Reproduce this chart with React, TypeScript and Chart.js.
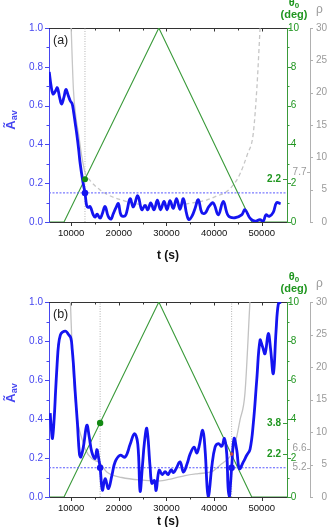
import React, { useEffect, useRef } from "react";
import { Chart, registerables } from "chart.js";

Chart.register(...registerables);

const FONT = "Arial, 'Liberation Sans', Helvetica, sans-serif";
const BLUE = "#1414f0";
const BLUE_TEXT = "#4646f0";
const GREEN = "#3a9a3a";
const GREEN_TEXT = "#1f961f";
const GREEN_DOT = "#138a13";
const GRAY_TEXT = "#9a9a9a";
const GRAY_AXIS = "#b0b0b0";

const T_MIN = 5350;
const T_MAX = 55300;

const xTicks = [10000, 20000, 30000, 40000, 50000];
const xMinorTicks = [15000, 25000, 35000, 45000];
const aTicks = [0, 0.2, 0.4, 0.6, 0.8, 1.0];
const aMinorTicks = [0.1, 0.3, 0.5, 0.7, 0.9];
const thetaTicks = [0, 2, 4, 6, 8, 10];
const thetaMinorTicks = [1, 3, 5, 7, 9];
const rhoTicks = [0, 5, 10, 15, 20, 25, 30];

const A_THRESHOLD = 0.15;

// tilt-angle ramp θ0(t), shared by both runs
const tTheta = [T_MIN, 8500, 28400, 47900, T_MAX];
const theta = [0, 0, 10, 0, 0];

// ---- run (a) ----
const tBlueA = [
  5400, 5800, 6200, 6700, 7100, 7600, 8000, 8500, 8900, 9350,
  9800, 10200, 10500, 10850, 11200, 11550, 11900, 12400, 12900, 13250,
  13560, 13980, 14670, 15030, 15450, 16080, 16500, 17130, 17760, 18380,
  18800, 19430, 19910, 20480, 21320, 21740, 22370, 23060, 23980, 24820,
  25510, 26080, 26700, 27400, 28090, 28760, 29490, 30120, 30750, 31440,
  32110, 32850, 33540, 34250, 34730, 35360, 36000, 36690, 37400, 38090,
  38930, 39830, 40880, 41930, 42980, 44380, 45780, 46480, 47530, 48570,
  49620, 50320, 50880, 51570, 52410, 53120, 53960,
];
const aBlueA = [
  0.774, 0.70, 0.66, 0.675, 0.692, 0.64, 0.608, 0.645, 0.683, 0.655,
  0.625, 0.61, 0.57, 0.51, 0.45, 0.38, 0.30, 0.217, 0.15, 0.085,
  0.075, 0.08, 0.035, 0.025, 0.04, 0.02, 0.04, 0.08, 0.03, 0.015,
  0.04, 0.075, 0.095, 0.035, 0.032, 0.06, 0.12, 0.078, 0.135, 0.063,
  0.085, 0.063, 0.098, 0.063, 0.112, 0.063, 0.106, 0.063, 0.11, 0.07,
  0.12, 0.065, 0.12, 0.04, 0.012, 0.03, 0.07, 0.115, 0.05, 0.045,
  0.08, 0.098, 0.037, 0.106, 0.032, 0.022, 0.037, 0.063, 0.02, 0.004,
  0.012, 0.004, 0.037, 0.029, 0.05, 0.1, 0.094,
];
const tRhoA = [
  10000, 10480, 11000, 11530, 12240, 12900, 14000, 16000, 18000, 20600,
  23000, 26000, 29000, 32000, 35000, 38450, 40500, 42640, 44500, 45470,
  47000, 48220, 49000, 49650,
];
const rhoA = [
  30, 20.4, 16.2, 13.7, 10.1, 7.7, 6.4, 5.0, 4.1, 3.4,
  2.9, 2.6, 2.5, 2.6, 2.9, 3.4, 4.0, 4.7, 6.2, 7.5,
  10.5, 13.7, 21, 30,
];
const critTA = [12900];
const critThetaA = [2.2];
const critRhoA = [7.7];

// ---- run (b) ----
const tBlueB = [
  5600, 5870, 6080, 6430, 6750, 7050, 7350, 7730, 8180, 8890,
  9430, 9940, 10210, 10480, 10840, 11320, 11740, 12030, 12580, 13290,
  13780, 14340, 15030, 15390, 15730, 16080, 16560, 17130, 17820, 18540,
  19230, 20280, 21330, 22380, 23280, 23990, 24470, 24960, 25380, 25880,
  26570, 26930, 27470, 27830, 28460, 29150, 29720, 30350, 30980, 31460,
  32020, 32860, 33560, 34330, 34960, 35800, 36370, 36850, 37620, 38110,
  38530, 38800, 39050, 39510, 40200, 40900, 41610, 42160, 42660, 42930,
  43200, 43450, 43680, 44190, 44760, 45300, 46140, 46850, 47550, 48240,
  48950, 49640, 50170, 50690, 51380, 51850, 52430, 53000, 53480, 53990,
];
const aBlueB = [
  0.43, 0.34, 0.30, 0.40, 0.55, 0.68, 0.78, 0.83, 0.845, 0.85,
  0.834, 0.815, 0.76, 0.68, 0.54, 0.376, 0.22, 0.205, 0.26, 0.368,
  0.31, 0.23, 0.197, 0.243, 0.205, 0.15, 0.035, 0.094, 0.043, 0.11,
  0.18, 0.214, 0.205, 0.27, 0.325, 0.27, 0.03, 0.16, 0.28, 0.351,
  0.154, 0.07, 0.085, 0.034, 0.137, 0.115, 0.13, 0.115, 0.14, 0.125,
  0.145, 0.18, 0.128, 0.17, 0.22, 0.256, 0.225, 0.26, 0.342, 0.24,
  0.05, 0.0, 0.04, 0.154, 0.256, 0.274, 0.26, 0.3, 0.22, 0.05,
  0.0, 0.07, 0.15, 0.3, 0.24, 0.145, 0.18, 0.214, 0.245, 0.38,
  0.6, 0.804, 0.77, 0.735, 0.838, 0.76, 0.633, 0.85, 0.99, 1.0,
];
const tRhoB = [
  9850, 10300, 10800, 11530, 12250, 12930, 14340, 15720, 16080, 17480,
  20630, 25510, 28300, 31110, 33900, 36680, 39490, 41590, 42970, 43680,
  44020, 44730, 45420, 46470, 47520,
];
const rhoB = [
  30, 21, 15.5, 11, 9, 7.4, 5.9, 5.4, 5.2, 3.85,
  3.0, 2.57, 2.46, 2.8, 3.3, 3.6, 3.9, 5.1, 5.9, 6.6,
  7.2, 9.2, 11.8, 15.9, 30,
];
const critTB = [16080, 43680];
const critThetaB = [3.8, 2.2];
const critRhoB = [5.2, 6.6];

type PanelSpec = {
  letter: string;
  tBlue: number[];
  aBlue: number[];
  tRho: number[];
  rho: number[];
  rhoDashed: boolean;
  critT: number[];
  critTheta: number[];
  critRho: number[];
  critRhoShift: number[];
  thetaDotColor: string[];
  thetaDotRadius: number[];
  padTop: number;
  xAxisH: number;
  letterTop: number;
  leftTitleCy: number;
  tTitleBaseline: number;
};

const panelA: PanelSpec = {
  letter: "(a)",
  tBlue: tBlueA,
  aBlue: aBlueA,
  tRho: tRhoA,
  rho: rhoA,
  rhoDashed: true,
  critT: critTA,
  critTheta: critThetaA,
  critRho: critRhoA,
  critRhoShift: [0],
  thetaDotColor: [GREEN_DOT],
  thetaDotRadius: [3],
  padTop: 28,
  xAxisH: 41,
  letterTop: 34,
  leftTitleCy: 120,
  tTitleBaseline: 259,
};

const panelB: PanelSpec = {
  letter: "(b)",
  tBlue: tBlueB,
  aBlue: aBlueB,
  tRho: tRhoB,
  rho: rhoB,
  rhoDashed: false,
  critT: critTB,
  critTheta: critThetaB,
  critRho: critRhoB,
  critRhoShift: [4.5, -5.5],
  thetaDotColor: [GREEN_DOT, "#c04848"],
  thetaDotRadius: [3.2, 1.8],
  padTop: 39,
  xAxisH: 30,
  letterTop: 45,
  leftTitleCy: 130,
  tTitleBaseline: 262,
};

function hline(ctx: CanvasRenderingContext2D, x1: number, x2: number, y: number, color: string) {
  const yy = Math.round(y) + 0.5;
  ctx.strokeStyle = color;
  ctx.beginPath();
  ctx.moveTo(x1, yy);
  ctx.lineTo(x2, yy);
  ctx.stroke();
}

function vline(ctx: CanvasRenderingContext2D, x: number, y1: number, y2: number, color: string) {
  const xx = Math.round(x) + 0.5;
  ctx.strokeStyle = color;
  ctx.beginPath();
  ctx.moveTo(xx, y1);
  ctx.lineTo(xx, y2);
  ctx.stroke();
}

function axisDecor(spec: PanelSpec) {
  return {
    id: "axisDecor",
    beforeDatasetsDraw(chart: any) {
      const { ctx, chartArea: a, scales } = chart;
      const { x, y, yT, yR } = scales;
      ctx.save();
      ctx.lineWidth = 1;
      // top frame line with inward mirror ticks
      hline(ctx, a.left, a.right, a.top, "#333");
      xTicks.forEach((v) => {
        const px = x.getPixelForValue(v);
        vline(ctx, px, a.top, a.top + 3.5, "#333");
        vline(ctx, px, a.bottom, a.bottom + 4, "#333");
      });
      xMinorTicks.forEach((v) => {
        const px = x.getPixelForValue(v);
        vline(ctx, px, a.top, a.top + 2.5, "#333");
        vline(ctx, px, a.bottom, a.bottom + 2.5, "#333");
      });
      aTicks.forEach((v) => hline(ctx, a.left - 4, a.left, y.getPixelForValue(v), BLUE_TEXT));
      aMinorTicks.forEach((v) => hline(ctx, a.left - 2.5, a.left, y.getPixelForValue(v), BLUE_TEXT));
      thetaTicks.forEach((v) => hline(ctx, a.right, a.right + 4, yT.getPixelForValue(v), GREEN));
      thetaMinorTicks.forEach((v) => hline(ctx, a.right, a.right + 2.5, yT.getPixelForValue(v), GREEN));
      const rl = yR.left;
      rhoTicks.forEach((v) => hline(ctx, rl, rl + 3, yR.getPixelForValue(v), GRAY_AXIS));
      // small marks at the critical values
      spec.critTheta.forEach((v) => hline(ctx, a.right - 4, a.right, yT.getPixelForValue(v), GREEN));
      spec.critRho.forEach((v, i) =>
        hline(ctx, rl - 3, rl, yR.getPixelForValue(v) + spec.critRhoShift[i], GRAY_AXIS)
      );
      ctx.restore();
    },
    afterDraw(chart: any) {
      const { ctx, chartArea: a, scales } = chart;
      const { yT, yR } = scales;
      ctx.save();
      // panel letter
      ctx.fillStyle = "#222";
      ctx.font = `12.5px ${FONT}`;
      ctx.textAlign = "left";
      ctx.textBaseline = "top";
      ctx.fillText(spec.letter, 53, spec.letterTop);

      // left axis title: Ã with subscript av, rotated
      ctx.save();
      ctx.translate(15, spec.leftTitleCy);
      ctx.rotate(-Math.PI / 2);
      ctx.fillStyle = BLUE_TEXT;
      ctx.textBaseline = "alphabetic";
      ctx.textAlign = "left";
      ctx.font = `bold 13px ${FONT}`;
      const w1 = ctx.measureText("Ã").width;
      ctx.font = `bold 9px ${FONT}`;
      const w2 = ctx.measureText("av").width;
      const start = -(w1 + w2) / 2;
      ctx.font = `bold 13px ${FONT}`;
      ctx.fillText("Ã", start, 0);
      ctx.font = `bold 9px ${FONT}`;
      ctx.fillText("av", start + w1, 1.5);
      ctx.restore();

      // bottom axis title
      ctx.fillStyle = "#111";
      ctx.font = `bold 12px ${FONT}`;
      ctx.textAlign = "center";
      ctx.textBaseline = "alphabetic";
      ctx.fillText("t (s)", (a.left + a.right) / 2, spec.tTitleBaseline);

      // θ0 (deg) title
      const cx = 294;
      ctx.fillStyle = GREEN_TEXT;
      ctx.font = `bold 11px ${FONT}`;
      ctx.fillText("(deg)", cx, a.top - 10);
      ctx.font = `bold 11px ${FONT}`;
      const wt = ctx.measureText("θ").width;
      ctx.font = `bold 8px ${FONT}`;
      const ws = ctx.measureText("0").width;
      ctx.textAlign = "left";
      const sx = cx - (wt + ws) / 2;
      ctx.font = `bold 11px ${FONT}`;
      ctx.fillText("θ", sx, a.top - 22);
      ctx.font = `bold 8px ${FONT}`;
      ctx.fillText("0", sx + wt, a.top - 20);

      // ρ title
      ctx.fillStyle = GRAY_TEXT;
      ctx.font = `12px ${FONT}`;
      ctx.fillText("ρ", 316, a.top - 15);

      // critical θ0 values
      ctx.textAlign = "right";
      ctx.textBaseline = "middle";
      ctx.fillStyle = GREEN_TEXT;
      ctx.font = `bold 10px ${FONT}`;
      spec.critTheta.forEach((v) => {
        ctx.fillText(v.toFixed(1), a.right - 6, yT.getPixelForValue(v));
      });
      // critical ρ values
      ctx.fillStyle = GRAY_TEXT;
      ctx.font = `10px ${FONT}`;
      spec.critRho.forEach((v, i) => {
        ctx.fillText(v.toFixed(1), yR.left - 3.5, yR.getPixelForValue(v) + spec.critRhoShift[i]);
      });
      ctx.restore();
    },
  };
}

function buildConfig(spec: PanelSpec): any {
  const xy = (ts: number[], vs: number[]) => ts.map((t, i) => ({ x: t, y: vs[i] }));
  const critStart = spec.critT[0];
  const datasets: any[] = [
    {
      label: "A-crit",
      data: spec.critT.map((t) => ({ x: t, y: A_THRESHOLD })),
      yAxisID: "y",
      showLine: false,
      pointRadius: 3.2,
      pointBackgroundColor: BLUE,
      pointBorderWidth: 0,
      order: 0,
    },
    {
      label: "theta-crit",
      data: xy(spec.critT, spec.critTheta),
      yAxisID: "yT",
      showLine: false,
      pointRadius: spec.thetaDotRadius,
      pointBackgroundColor: spec.thetaDotColor,
      pointBorderWidth: 0,
      order: 0,
    },
    {
      label: "A",
      data: xy(spec.tBlue, spec.aBlue),
      yAxisID: "y",
      borderColor: BLUE,
      borderWidth: 2.8,
      pointRadius: 0,
      tension: 0.4,
      order: 1,
    },
    {
      label: "threshold",
      data: [
        { x: T_MIN, y: A_THRESHOLD },
        { x: T_MAX, y: A_THRESHOLD },
      ],
      yAxisID: "y",
      borderColor: "#5a5aff",
      borderWidth: 1,
      borderDash: [2, 1.5],
      pointRadius: 0,
      order: 3,
    },
    {
      label: "theta",
      data: xy(tTheta, theta),
      yAxisID: "yT",
      borderColor: GREEN,
      borderWidth: 1.1,
      pointRadius: 0,
      tension: 0,
      order: 4,
    },
    {
      label: "rho",
      data: xy(spec.tRho, spec.rho),
      yAxisID: "yR",
      borderColor: spec.rhoDashed ? "#c6c6c6" : "#c2c2c2",
      borderWidth: 1.3,
      pointRadius: 0,
      cubicInterpolationMode: "monotone",
      segment: spec.rhoDashed
        ? { borderDash: (c: any) => (c.p0.parsed.x >= critStart ? [4, 3] : undefined) }
        : undefined,
      order: 5,
    },
    ...spec.critT.map((t) => ({
      label: "crit-t",
      data: [
        { x: t, y: 0 },
        { x: t, y: 1 },
      ],
      yAxisID: "y",
      borderColor: "#b4b4b4",
      borderWidth: 1,
      borderDash: [1, 1.5],
      pointRadius: 0,
      order: 6,
    })),
  ];

  const noGrid = { display: false, drawTicks: false };

  return {
    type: "line",
    data: { datasets },
    options: {
      animation: false,
      responsive: false,
      devicePixelRatio: 1,
      events: [],
      layout: { padding: { top: spec.padTop, right: 8, left: 0, bottom: 0 } },
      plugins: { legend: { display: false }, tooltip: { enabled: false } },
      scales: {
        x: {
          type: "linear",
          position: "bottom",
          min: T_MIN,
          max: T_MAX,
          afterBuildTicks: (s: any) => {
            s.ticks = xTicks.map((v) => ({ value: v }));
          },
          afterFit: (s: any) => {
            s.height = spec.xAxisH;
          },
          grid: noGrid,
          border: { display: true, color: "#333", width: 1 },
          ticks: {
            color: "#111",
            font: { family: FONT, size: 9.5 },
            padding: 5.5,
            maxRotation: 0,
            autoSkip: false,
            callback: (v: any) => String(v),
          },
        },
        y: {
          type: "linear",
          position: "left",
          min: 0,
          max: 1,
          afterBuildTicks: (s: any) => {
            s.ticks = aTicks.map((v) => ({ value: v }));
          },
          afterFit: (s: any) => {
            s.width = 49;
          },
          grid: noGrid,
          border: { display: true, color: BLUE_TEXT, width: 1 },
          ticks: {
            color: BLUE_TEXT,
            font: { family: FONT, size: 10 },
            padding: 6,
            callback: (v: any) => Number(v).toFixed(1),
          },
        },
        yT: {
          type: "linear",
          position: "right",
          weight: 0,
          min: 0,
          max: 10,
          afterBuildTicks: (s: any) => {
            s.ticks = thetaTicks.map((v) => ({ value: v }));
          },
          afterFit: (s: any) => {
            s.width = 23;
          },
          grid: noGrid,
          border: { display: true, color: GREEN, width: 1 },
          ticks: {
            color: GREEN_TEXT,
            font: { family: FONT, size: 10 },
            padding: 1,
            crossAlign: "center",
            callback: (v: any) => String(v),
          },
        },
        yR: {
          type: "linear",
          position: "right",
          weight: 1,
          min: 0,
          max: 30,
          afterBuildTicks: (s: any) => {
            s.ticks = rhoTicks.map((v) => ({ value: v }));
          },
          afterFit: (s: any) => {
            s.width = 17;
          },
          grid: noGrid,
          border: { display: true, color: GRAY_AXIS, width: 1 },
          ticks: {
            color: GRAY_TEXT,
            font: { family: FONT, size: 10 },
            padding: 4,
            crossAlign: "far",
            callback: (v: any) => String(v),
          },
        },
      },
    },
    plugins: [axisDecor(spec)],
  };
}

function Panel({ spec, top, height }: { spec: PanelSpec; top: number; height: number }) {
  const ref = useRef<HTMLCanvasElement>(null);
  useEffect(() => {
    const chart = new Chart(ref.current as HTMLCanvasElement, buildConfig(spec));
    return () => chart.destroy();
  }, [spec]);
  return (
    <canvas
      ref={ref}
      width={335}
      height={height}
      style={{ position: "absolute", left: 0, top, width: 335, height }}
    />
  );
}

export default function App() {
  return (
    <div
      style={{
        position: "fixed",
        left: 0,
        top: 0,
        width: 335,
        height: 527,
        background: "#ffffff",
        overflow: "hidden",
      }}
    >
      <Panel spec={panelA} top={0} height={263} />
      <Panel spec={panelB} top={263} height={264} />
    </div>
  );
}
